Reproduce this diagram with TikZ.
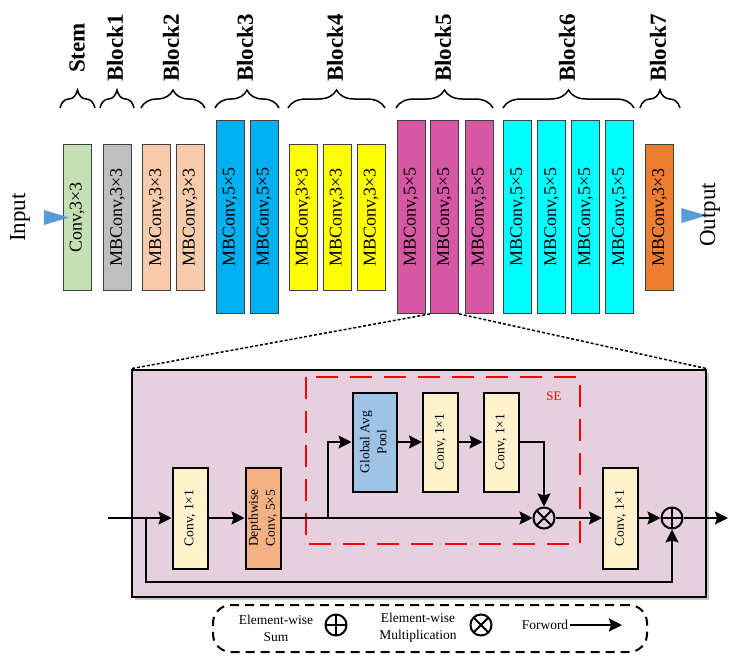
\documentclass[tikz,border=0pt]{standalone}
\usepackage{fontspec}
\setmainfont{Liberation Serif}
\usepackage{graphicx}
\usetikzlibrary{
  positioning, arrows.meta, shapes.geometric,
  decorations.pathreplacing, shadows
}
\definecolor{stemgreen}{HTML}{C5E0B4}
\definecolor{blkgray}{HTML}{BFBFBF}
\definecolor{blkpeach}{HTML}{F8CBAD}
\definecolor{blkblue}{HTML}{00B0F0}
\definecolor{blkyellow}{HTML}{FFFF00}
\definecolor{blkmagenta}{HTML}{D658A5}
\definecolor{blkcyan}{HTML}{00FFFF}
\definecolor{blkorange}{HTML}{ED7D31}
\definecolor{ioblue}{HTML}{5B9BD5}
\definecolor{panelpink}{HTML}{E6D0DE}
\definecolor{convcream}{HTML}{FFF2CC}
\definecolor{dwsalmon}{HTML}{F4B183}
\definecolor{poolblue}{HTML}{9DC3E6}
\newcommand{\vlabel}[1]{\rotatebox{90}{#1}}
\newcommand{\vlabeltwo}[2]{\rotatebox{90}{\begin{tabular}{@{}c@{}}#1\\#2\end{tabular}}}

\begin{document}
\begin{tikzpicture}[
    x=1pt, y=-1pt,
    every node/.style={font=\fontsize{13.5}{17}\selectfont},
    >={Stealth[length=13pt, width=13pt, inset=2pt]},
    layer/.style={draw=black!75, line width=0.8pt, minimum width=28pt, minimum height=146pt, inner sep=0pt, font=\fontsize{18}{20}\selectfont},
    tall/.style={layer, minimum height=193pt},
    brace/.style={decorate, decoration={brace, amplitude=18pt}, line width=1.5pt},
    grouplabel/.style={inner sep=0pt, font=\fontsize{23}{26}\selectfont\bfseries},
    io/.style={isosceles triangle, isosceles triangle stretches, fill=ioblue, minimum width=15pt, minimum height=25pt, inner sep=0pt},
    iotext/.style={inner sep=0pt, font=\fontsize{23}{26}\selectfont},
    panel/.style={draw, line width=2.5pt, fill=panelpink, minimum width=574pt, minimum height=227pt,
      drop shadow={shadow xshift=3pt, shadow yshift=-3pt, opacity=.35, fill=black!60}},
    zoomline/.style={line width=1.5pt, dash pattern=on 3pt off 2pt},
    unit/.style={draw, line width=2pt, fill=convcream, minimum width=35pt, minimum height=101pt, inner sep=0pt},
    sebox/.style={red, line width=2.5pt, dash pattern=on 22pt off 12pt},
    op/.style={draw, circle, line width=2pt, minimum size=21pt, inner sep=0pt},
    oplus/.style={op, path picture={\draw[line width=2pt] (path picture bounding box.north) -- (path picture bounding box.south) (path picture bounding box.west) -- (path picture bounding box.east);}},
    otimes/.style={op, path picture={\draw[line width=2pt] (path picture bounding box.north west) -- (path picture bounding box.south east) (path picture bounding box.north east) -- (path picture bounding box.south west);}},
    wire/.style={line width=2pt},
    legendbox/.style={draw, line width=2pt, dash pattern=on 9pt off 6pt, rounded corners=18pt, minimum width=434pt, minimum height=47pt},
    legendtext/.style={align=center, inner sep=2pt},
  ]
  \useasboundingbox (0,0) rectangle (737,664);

  % stem and blocks
  \node[layer, fill=stemgreen] (stem) at (77,217.5) {\vlabel{Conv,3×3}};
  \node[layer, fill=blkgray] (b1) at (117.5,217.5) {\vlabel{MBConv,3×3}};
  \node[layer, fill=blkpeach] (b2a) at (156.5,217.5) {\vlabel{MBConv,3×3}};
  \node[layer, fill=blkpeach] (b2b) at (190,217.5) {\vlabel{MBConv,3×3}};
  \node[tall, fill=blkblue] (b3a) at (230,217) {\vlabel{MBConv,5×5}};
  \node[tall, fill=blkblue] (b3b) at (264,217) {\vlabel{MBConv,5×5}};
  \node[layer, fill=blkyellow] (b4a) at (303,217.5) {\vlabel{MBConv,3×3}};
  \node[layer, fill=blkyellow] (b4b) at (337,217.5) {\vlabel{MBConv,3×3}};
  \node[layer, fill=blkyellow] (b4c) at (371,217.5) {\vlabel{MBConv,3×3}};
  \node[tall, fill=blkmagenta] (b5a) at (411,217) {\vlabel{MBConv,5×5}};
  \node[tall, fill=blkmagenta] (b5b) at (444.5,217) {\vlabel{MBConv,5×5}};
  \node[tall, fill=blkmagenta] (b5c) at (479,217) {\vlabel{MBConv,5×5}};
  \node[tall, fill=blkcyan] (b6a) at (517.5,217) {\vlabel{MBConv,5×5}};
  \node[tall, fill=blkcyan] (b6b) at (551.5,217) {\vlabel{MBConv,5×5}};
  \node[tall, fill=blkcyan] (b6c) at (585.5,217) {\vlabel{MBConv,5×5}};
  \node[tall, fill=blkcyan] (b6d) at (619.5,217) {\vlabel{MBConv,5×5}};
  \node[layer, fill=blkorange] (b7) at (659.5,217.5) {\vlabel{MBConv,3×3}};

  % group braces
  \draw[brace] (60,108) -- (95,108);
  \draw[brace] (100,108) -- (134,108);
  \draw[brace] (141,108) -- (205,108);
  \draw[brace] (215,108) -- (279,108);
  \draw[brace] (288,108) -- (385,108);
  \draw[brace] (396,108) -- (493,108);
  \draw[brace] (503,108) -- (634,108);
  \draw[brace] (640,108) -- (680,108);
  \node[grouplabel] (lstem) at (77,48) {\vlabel{Stem}};
  \node[grouplabel] (lb1) at (115,48) {\vlabel{Block1}};
  \node[grouplabel] (lb2) at (171,48) {\vlabel{Block2}};
  \node[grouplabel] (lb3) at (245,48) {\vlabel{Block3}};
  \node[grouplabel] (lb4) at (335,48) {\vlabel{Block4}};
  \node[grouplabel] (lb5) at (443,48) {\vlabel{Block5}};
  \node[grouplabel] (lb6) at (567,48) {\vlabel{Block6}};
  \node[grouplabel] (lb7) at (658,48) {\vlabel{Block7}};

  % input / output
  \node[io] (inarr) at (49.5,217.5) {};
  \node[iotext] (intext) at (20,217.5) {\vlabel{Input}};
  \node[io] (outarr) at (687,215.5) {};
  \node[iotext] (outtext) at (710,215) {\vlabel{Output}};

  % MBConv detail
  \node[panel] (panel) at (419,483.5) {};
  \draw[zoomline] (b5b.south west) -- (panel.north west);
  \draw[zoomline] (b5b.south east) -- (panel.north east);

  \draw[sebox] (306,377) rectangle (580,544);
  \node[red, font=\fontsize{13}{15}\selectfont] (selabel) at (554,396) {SE};

  \node[unit] (c1) at (190,518) {\vlabel{Conv, 1×1}};
  \node[unit, fill=dwsalmon] (dw) at (263,518) {\vlabeltwo{Depthwise}{Conv, 5×5}};
  \node[unit, fill=poolblue, minimum width=44pt, minimum height=99pt] (gap) at (374.5,442) {\vlabeltwo{Global Avg}{Pool}};
  \node[unit, minimum height=99pt] (se1) at (440.5,442) {\vlabel{Conv, 1×1}};
  \node[unit, minimum height=99pt] (se2) at (501,442) {\vlabel{Conv, 1×1}};
  \node[otimes] (mul) at (544,518) {};
  \node[unit] (c2) at (620.5,518) {\vlabel{Conv, 1×1}};
  \node[oplus] (add) at (672,518) {};

  \coordinate (in) at (108,518);
  \coordinate (skip) at (146,518);
  \coordinate (skipdown) at (146,582);
  \coordinate (split) at (328,518);
  \coordinate (out) at (728,518);

  \draw[wire, ->] (in) -- (c1);
  \draw[wire, ->] (c1) -- (dw);
  \draw[wire, ->] (dw) -- (mul);
  \draw[wire, ->] (split) |- (gap);
  \draw[wire, ->] (gap) -- (se1);
  \draw[wire, ->] (se1) -- (se2);
  \draw[wire, ->] (se2) -| (mul);
  \draw[wire, ->] (mul) -- (c2);
  \draw[wire, ->] (c2) -- (add);
  \draw[wire, ->] (add) -- (out);
  \draw[wire, ->] (skip) -- (skipdown) -| (add);

  % legend
  \node[legendbox] (legend) at (430,628.5) {};
  \node[legendtext] (sumtxt) at (276,628) {Element-wise\\Sum};
  \node[oplus] (sumsym) at (336,625) {};
  \node[legendtext] (multxt) at (418,628) {Element-wise\\Multiplication};
  \node[otimes] (mulsym) at (481,625) {};
  \node[legendtext] (fwdtxt) at (545,625) {Forword};
  \coordinate (fwdend) at (622,625);
  \draw[wire, ->] (fwdtxt) -- (fwdend);
\end{tikzpicture}
\end{document}
